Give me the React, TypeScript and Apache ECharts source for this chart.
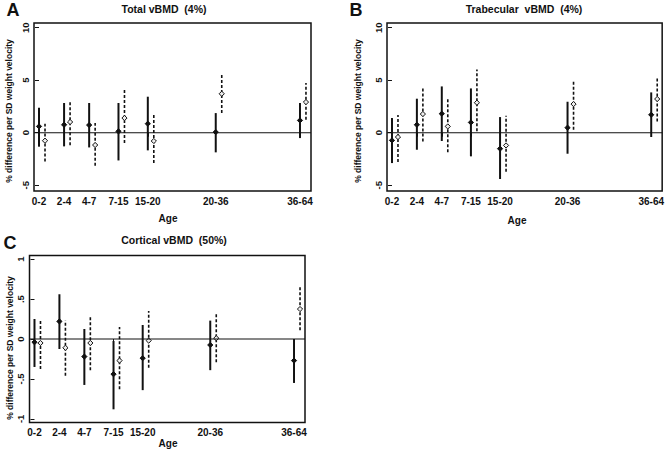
import React, { useEffect, useRef } from "react";
import * as echarts from "echarts";

const ageLabels = ["0-2", "2-4", "4-7", "7-15", "15-20", "20-36", "36-64"];
const agePos = [0, 1, 2, 3.17, 4.34, 7.05, 10.41];

// Panel A: Total vBMD (4%)
const aSolidEst = [0.6, 0.76, 0.73, 0.13, 0.86, 0.06, 1.17];
const aSolidLo = [-1.33, -1.3, -1.4, -2.64, -1.68, -1.87, -0.51];
const aSolidHi = [2.38, 2.83, 2.83, 2.83, 3.43, 1.87, 2.83];
const aDashEst = [-0.76, 1.02, -1.17, 1.4, -0.79, 3.71, 2.92];
const aDashLo = [-2.73, -1.2, -3.14, -0.98, -2.89, 1.87, 1.24];
const aDashHi = [0.86, 2.92, 0.92, 4.16, 1.78, 5.62, 4.73];

// Panel B: Trabecular vBMD (4%)
const bSolidEst = [-0.73, 0.76, 1.81, 0.98, -1.52, 0.48, 1.71];
const bSolidLo = [-2.89, -1.62, -0.79, -2.25, -4.41, -2.0, -0.41];
const bSolidHi = [1.4, 3.24, 4.41, 4.22, 1.49, 2.95, 3.84];
const bDashEst = [-0.41, 1.78, 0.6, 2.86, -1.21, 2.73, 3.21];
const bDashLo = [-2.79, -0.83, -1.87, 0.13, -3.71, 0.29, 1.08];
const bDashHi = [1.68, 4.29, 3.21, 6.03, 1.62, 5.05, 5.21];

// Panel C: Cortical vBMD (50%)
const cSolidEst = [-0.04, 0.22, -0.22, -0.44, -0.24, -0.075, -0.27];
const cSolidLo = [-0.35, -0.125, -0.575, -0.88, -0.64, -0.39, -0.55];
const cSolidHi = [0.25, 0.56, 0.125, -0.025, 0.175, 0.23, 0.0];
const cDashEst = [-0.05, -0.11, -0.05, -0.27, -0.02, 0.01, 0.375];
const cDashLo = [-0.375, -0.46, -0.39, -0.63, -0.36, -0.29, 0.11];
const cDashHi = [0.24, 0.23, 0.29, 0.15, 0.35, 0.32, 0.65];

const abTicks = [-5, 0, 5, 10];
const abTickLabels = ["-5", "0", "5", "10"];
const cTicks = [-1, -0.5, 0, 0.5, 1];
const cTickLabels = ["-1", "-.5", "0", ".5", "1"];

const panelTitles = ["Total vBMD  (4%)", "Trabecular  vBMD  (4%)", "Cortical vBMD  (50%)"];
const panelLetters = ["A", "B", "C"];
const yTitle = "% difference per SD weight velocity";
const xTitle = "Age";

const INK = "#111";
const FONT = "'Liberation Sans', Arial, sans-serif";

function lookup(vals: number[], labels: string[], v: number) {
  for (let i = 0; i < vals.length; i++) if (Math.abs(vals[i] - v) < 1e-6) return labels[i];
  return "";
}

function makeRows(est: number[], lo: number[], hi: number[]) {
  return agePos.map((x, i) => [x, est[i], lo[i], hi[i]]);
}

function errSeries(idx: number, rows: number[][], dashed: boolean) {
  const offset = dashed ? 6 : 0;
  return {
    type: "custom",
    xAxisIndex: idx,
    yAxisIndex: idx,
    encode: { x: 0, y: [1, 2, 3] },
    data: rows,
    renderItem: (params: any, api: any) => {
      const x = api.value(0);
      const pE = api.coord([x, api.value(1)]);
      const pL = api.coord([x, api.value(2)]);
      const pH = api.coord([x, api.value(3)]);
      const cx = pE[0] + offset;
      const cy = pE[1];
      const r = 2.6;
      return {
        type: "group",
        children: [
          {
            type: "line",
            shape: { x1: cx, y1: pL[1], x2: cx, y2: pH[1] },
            style: {
              stroke: INK,
              lineWidth: dashed ? 1.6 : 2,
              lineDash: dashed ? [3, 2] : null,
            },
          },
          {
            type: "polygon",
            shape: { points: [[cx, cy - r], [cx + r, cy], [cx, cy + r], [cx - r, cy]] },
            style: { fill: dashed ? "#eee" : INK, stroke: INK, lineWidth: 1 },
          },
        ],
      };
    },
  };
}

export default function App() {
  const ref = useRef<HTMLDivElement>(null);
  useEffect(() => {
    if (!ref.current) return;
    const chart = echarts.init(ref.current, null, { renderer: "svg" });
    const grids = [
      { left: 34, top: 23, width: 277, height: 168 },
      { left: 387, top: 23, width: 276, height: 168 },
      { left: 29.5, top: 255.5, width: 275.5, height: 167 },
    ];
    const yRanges = [
      [-5.55, 10.45],
      [-5.55, 10.45],
      [-1.045, 1.045],
    ];
    const xMin = -0.2;
    const xMax = 10.85;

    const xAxes = grids.map((_, i) => ({
      type: "value",
      gridIndex: i,
      min: xMin,
      max: xMax,
      axisLine: { show: false },
      splitLine: { show: false },
      axisTick: { show: true, customValues: agePos, length: 4, lineStyle: { color: INK, width: 1 } },
      axisLabel: {
        customValues: agePos,
        formatter: (v: number) => lookup(agePos, ageLabels, v),
        color: INK,
        fontSize: 10,
        fontWeight: "bold",
        fontFamily: FONT,
        margin: 5,
      },
    }));

    const yAxes = grids.map((_, i) => {
      const ticks = i < 2 ? abTicks : cTicks;
      const labels = i < 2 ? abTickLabels : cTickLabels;
      return {
        type: "value",
        gridIndex: i,
        min: yRanges[i][0],
        max: yRanges[i][1],
        axisLine: { show: false },
        splitLine: { show: false },
        axisTick: { show: true, customValues: ticks, length: 4, lineStyle: { color: INK, width: 1 } },
        axisLabel: {
          customValues: ticks,
          formatter: (v: number) => lookup(ticks, labels, v),
          rotate: 90,
          color: INK,
          fontSize: 9.5,
          fontWeight: "bold",
          fontFamily: FONT,
          margin: 4,
        },
      };
    });

    const series: any[] = [];
    const sets = [
      [aSolidEst, aSolidLo, aSolidHi, aDashEst, aDashLo, aDashHi],
      [bSolidEst, bSolidLo, bSolidHi, bDashEst, bDashLo, bDashHi],
      [cSolidEst, cSolidLo, cSolidHi, cDashEst, cDashLo, cDashHi],
    ];
    sets.forEach((s, i) => {
      series.push({
        type: "line",
        xAxisIndex: i,
        yAxisIndex: i,
        data: [
          [xMin, 0],
          [xMax, 0],
        ],
        showSymbol: false,
        symbol: "none",
        lineStyle: { color: INK, width: 1.2 },
        silent: true,
      });
      series.push(errSeries(i, makeRows(s[0], s[1], s[2]), false));
      series.push(errSeries(i, makeRows(s[3], s[4], s[5]), true));
    });

    const txt = (x: number, y: number, text: string, size: number, rot = 0) => ({
      type: "text",
      x,
      y,
      rotation: rot,
      style: {
        text,
        fontSize: size,
        fontWeight: "bold",
        fontFamily: FONT,
        fill: INK,
        textAlign: "center",
        textVerticalAlign: "middle",
      },
    });

    const graphic = [
      txt(13, 10, panelLetters[0], 18),
      txt(356, 10, panelLetters[1], 18),
      txt(10, 243, panelLetters[2], 18),
      txt(164, 9, panelTitles[0], 10.5),
      txt(524, 9, panelTitles[1], 10.5),
      txt(174, 240, panelTitles[2], 10.5),
      txt(9, 111, yTitle, 8.5, Math.PI / 2),
      txt(358, 111, yTitle, 8.5, Math.PI / 2),
      txt(10, 348, yTitle, 8.5, Math.PI / 2),
      txt(168, 218, xTitle, 10),
      txt(517, 220, xTitle, 10),
      txt(168, 443, xTitle, 10),
    ];

    chart.setOption({
      animation: false,
      backgroundColor: "#fff",
      grid: grids.map((g) => ({ ...g, show: true, borderColor: INK, borderWidth: 1.5, backgroundColor: "transparent" })),
      xAxis: xAxes,
      yAxis: yAxes,
      series,
      graphic,
    });
    return () => chart.dispose();
  }, []);
  return (
    <div
      ref={ref}
      style={{ position: "fixed", left: 0, top: 0, width: 667, height: 461, background: "#fff" }}
    />
  );
}
